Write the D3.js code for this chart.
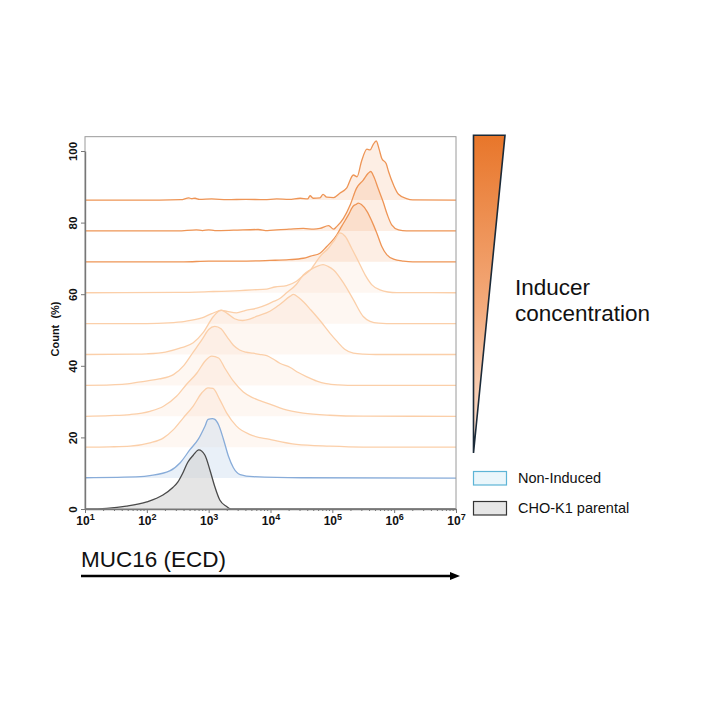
<!DOCTYPE html>
<html lang="en">
<head>
  <meta charset="UTF-8">
  <title>MUC16 (ECD) - inducer titration</title>
  <script src="https://d3js.org/d3.v7.min.js"></script>
  <style>
    body {
      margin: 0;
      padding: 0;
      background: #fff;
    }
    svg {
      display: block;
      font-family: "Liberation Sans", Arial, sans-serif;
    }
  </style>
</head>
<body>
  <div id="chart"></div>

  <script>
    // each point: [log10 intensity, count (% of mode) above the trace's own baseline]
    const parental = [[1,0],[1.35,0.2],[1.67,0.8],[2.0,2.0],[2.26,3.9],[2.42,6.0],[2.5,7.5],[2.58,10.0],[2.66,13.0],[2.75,15.0],[2.84,16.5],[2.94,15.0],[3.02,10.9],[3.10,6.2],[3.18,2.5],[3.29,0.7],[3.36,0],[7,0]];
    const nonInduced = [[1,0.1],[1.9,0.4],[2.05,0.7],[2.37,2.0],[2.54,4.3],[2.70,8.0],[2.83,10.8],[2.94,14.5],[2.99,16.4],[3.06,16.6],[3.10,16.4],[3.16,14.9],[3.24,10.8],[3.32,6.1],[3.40,2.9],[3.51,1.0],[3.72,0.4],[4.5,0.1],[7,0]];
    const dose1 = [[1,0],[1.4,0.1],[1.73,0.3],[2.05,1.2],[2.27,2.6],[2.43,4.9],[2.59,8.2],[2.75,11.5],[2.89,15.2],[2.99,16.6],[3.07,16.4],[3.18,13.3],[3.29,9.6],[3.45,5.9],[3.67,3.5],[3.99,2.2],[4.42,0.8],[4.96,0.3],[5.5,0.05],[7,0]];
    const dose2 = [[1,0],[1.4,0.2],[1.73,0.5],[2.05,1.4],[2.27,2.8],[2.48,5.6],[2.64,8.9],[2.81,12.1],[2.94,15.4],[3.05,16.8],[3.16,16.3],[3.26,13.5],[3.40,9.8],[3.56,6.8],[3.7,5.3],[3.83,4.4],[3.99,3.4],[4.21,2.0],[4.53,0.9],[4.96,0.3],[5.5,0.05],[7,0]];
    const dose3 = [[1,0],[1.6,0.3],[1.9,1.0],[2.2,1.8],[2.43,3.0],[2.6,5.6],[2.75,9.3],[2.9,13.0],[3.0,15.6],[3.1,16.5],[3.2,15.8],[3.3,13.5],[3.4,11.2],[3.5,9.9],[3.6,9.3],[3.72,9.0],[3.82,8.7],[3.94,8.3],[4.05,7.3],[4.15,6.2],[4.32,5.0],[4.45,3.6],[4.59,2.4],[4.75,1.2],[4.9,0.5],[5.1,0.15],[5.4,0],[7,0]];
    const dose4 = [[1,0],[1.8,0.1],[2.0,0.2],[2.3,0.7],[2.56,1.9],[2.75,3.3],[2.91,6.1],[3.08,10.7],[3.2,12.4],[3.3,11.5],[3.42,10.0],[3.55,9.5],[3.65,9.8],[3.78,10.7],[3.99,12.1],[4.15,14.0],[4.32,16.3],[4.37,16.8],[4.45,16.0],[4.54,14.6],[4.65,12.5],[4.80,9.5],[4.96,6.0],[5.07,3.8],[5.2,1.5],[5.34,0.4],[5.5,0.1],[5.7,0],[7,0]];
    const dose5 = [[1,0],[2.0,0],[2.35,0.2],[2.62,0.65],[2.89,1.6],[3.05,2.8],[3.21,3.7],[3.3,3.4],[3.45,3.0],[3.6,3.7],[3.78,4.3],[3.94,5.3],[4.05,6.2],[4.15,7.0],[4.26,8.6],[4.42,11.0],[4.53,13.6],[4.64,15.0],[4.75,16.0],[4.85,16.5],[4.93,16.0],[5.02,15.0],[5.18,11.4],[5.34,6.7],[5.50,2.0],[5.61,0.65],[5.75,0.15],[6,0],[7,0]];
    const dose6 = [[1,0],[2.5,0.1],[3.0,0.3],[3.5,0.6],[3.7,0.8],[3.94,1.0],[4.07,1.6],[4.26,2.0],[4.42,3.2],[4.53,4.8],[4.64,6.3],[4.69,7.4],[4.80,10.1],[4.94,12.5],[5.04,14.8],[5.12,16.7],[5.21,15.7],[5.31,12.5],[5.42,8.8],[5.53,5.0],[5.64,2.2],[5.77,0.8],[5.9,0.2],[6.04,0.05],[7,0]];
    const dose7 = [[1,0],[2.6,0],[3.0,0.2],[3.5,0.2],[3.99,0.4],[4.3,0.6],[4.53,1.0],[4.65,1.6],[4.80,2.4],[4.91,4.3],[4.99,5.7],[5.07,7.5],[5.15,9.9],[5.26,13.1],[5.34,15.6],[5.38,16.0],[5.42,16.4],[5.47,16.0],[5.56,14.1],[5.64,11.3],[5.72,8.0],[5.80,4.3],[5.88,2.0],[5.99,0.75],[6.15,0.2],[6.3,0],[7,0]];
    const dose8 = [[1,0],[2.5,0],[2.8,0.3],[2.9,0.1],[3.0,0.3],[3.1,0.1],[3.4,0.2],[3.8,0.4],[3.95,0.1],[4.1,0.3],[4.3,0.5],[4.53,0.7],[4.7,0.5],[4.8,0.7],[4.94,1.5],[5.02,0.5],[5.07,1.2],[5.18,3.5],[5.29,7.3],[5.39,11.9],[5.50,14.2],[5.58,16.1],[5.62,16.6],[5.67,15.2],[5.74,11.9],[5.82,8.2],[5.89,4.5],[5.96,1.7],[6.07,0.3],[6.2,0],[7,0]];
    const dose9 = [[1,0],[2.2,0],[2.55,0.1],[2.68,0.6],[2.72,0.4],[2.78,0.5],[2.85,0.2],[3.05,0.3],[3.3,0.1],[3.6,0.2],[3.9,0.1],[4.1,0.3],[4.3,0.2],[4.48,0.5],[4.6,0.3],[4.64,1.2],[4.69,0.5],[4.8,0.6],[4.85,1.6],[4.91,0.8],[5.02,0.7],[5.12,1.9],[5.23,3.3],[5.34,7.0],[5.40,6.5],[5.47,10.7],[5.56,14.2],[5.61,14.0],[5.66,15.5],[5.71,16.5],[5.76,14.0],[5.80,11.6],[5.87,10.2],[5.91,7.9],[5.99,4.2],[6.07,1.6],[6.2,0.4],[6.3,0.05],[7,0]];

    // bottom to top, in stacking order
    const traces = [parental, nonInduced, dose1, dose2, dose3, dose4, dose5, dose6, dose7, dose8, dose9];

    const xDecades = [1, 2, 3, 4, 5, 6, 7];
    const yTicks = [0, 20, 40, 60, 80, 100];
    const legendLabels = ["Non-Induced", "CHO-K1 parental"];
    const wedgeLabel = ["Inducer", "concentration"];
    const xTitle = "MUC16 (ECD)";
    const yTitle = "Count  (%)";

    const step = 8.63;   // vertical offset between stacked histograms, in y units

    const svg = d3.select("#chart")
                  .append("svg")
                  .attr("width", 720)
                  .attr("height", 720);

    const x = d3.scaleLog().domain([10, 1e7]).range([85, 456]);
    const y = d3.scaleLinear().domain([0, 100]).range([509, 151]);

    function styleOf(i) {
      if (i === 0) return { stroke: "#4a4a4a", fill: "#d4d4d4", op: 0.6 };
      if (i === 1) return { stroke: "#88acd9", fill: "#c8d9ee", op: 0.4 };
      if (i >= 8) return { stroke: "#ee9556", fill: "#f08a40", op: 0.14 };
      return { stroke: "#fbcfa9", fill: "#f39a55", op: 0.075 };
    }

    // gradient for the inducer wedge
    const defs = svg.append("defs");
    const grad = defs.append("linearGradient")
                     .attr("id", "wedge")
                     .attr("x1", 0).attr("y1", 0)
                     .attr("x2", 0).attr("y2", 1);
    grad.append("stop").attr("offset", "0%").attr("stop-color", "#e8762a");
    grad.append("stop").attr("offset", "55%").attr("stop-color", "#f3ab7d");
    grad.append("stop").attr("offset", "100%").attr("stop-color", "#fbe6d9");

    defs.append("clipPath").attr("id", "plotClip")
        .append("rect")
        .attr("x", x(10)).attr("y", y(104))
        .attr("width", x(1e7) - x(10)).attr("height", y(0) - y(104));

    // histograms, top trace first so lower ones sit in front
    const plot = svg.append("g").attr("clip-path", "url(#plotClip)");

    traces.map((t, i) => ({ i, base: i * step, pts: t }))
      .reverse()
      .forEach(tr => {
        const st = styleOf(tr.i);
        const area = d3.area()
                       .curve(d3.curveMonotoneX)
                       .x(d => x(Math.pow(10, d[0])))
                       .y0(y(tr.base))
                       .y1(d => y(tr.base + d[1]));
        const line = d3.line()
                       .curve(d3.curveMonotoneX)
                       .x(d => x(Math.pow(10, d[0])))
                       .y(d => y(tr.base + d[1]));

        plot.append("path")
            .attr("d", area(tr.pts))
            .attr("fill", st.fill)
            .attr("fill-opacity", st.op);

        plot.append("path")
            .attr("d", line(tr.pts))
            .attr("fill", "none")
            .attr("stroke", st.stroke)
            .attr("stroke-width", 1.3);
      });

    // frame
    svg.append("rect")
       .attr("x", x(10)).attr("y", y(104))
       .attr("width", x(1e7) - x(10)).attr("height", y(0) - y(104))
       .attr("fill", "none")
       .attr("stroke", "#9a9a9a")
       .attr("stroke-width", 1);

    // x axis
    const gx = svg.append("g")
                  .attr("transform", `translate(0, ${y(0)})`)
                  .call(d3.axisBottom(x)
                          .tickValues(xDecades.map(e => Math.pow(10, e)))
                          .tickSize(4)
                          .tickSizeOuter(0)
                          .tickFormat(""));

    gx.selectAll(".tick text").each(function(d) {
      const t = d3.select(this);
      t.attr("font-size", 12).attr("font-weight", "bold").attr("fill", "#111")
       .attr("font-family", "'Liberation Sans', Arial, sans-serif");
      t.append("tspan").text("10");
      t.append("tspan")
       .attr("dy", "-0.45em")
       .attr("font-size", 9)
       .text(Math.round(Math.log10(d)));
    });

    const minor = x.ticks().filter(v => Math.abs(Math.log10(v) % 1) > 1e-6);
    gx.selectAll(".minor")
      .data(minor)
      .enter()
      .append("line")
      .attr("class", "minor")
      .attr("x1", d => x(d)).attr("x2", d => x(d))
      .attr("y1", 0).attr("y2", 2)
      .attr("stroke", "#777");

    // y axis
    const gy = svg.append("g")
                  .attr("transform", `translate(${x(10)}, 0)`)
                  .call(d3.axisLeft(y)
                          .tickValues(yTicks)
                          .tickSize(4)
                          .tickSizeOuter(0));

    gy.selectAll(".tick text")
      .attr("x", 0)
      .attr("dy", 0)
      .attr("transform", "translate(-8.5, 0) rotate(-90)")
      .attr("text-anchor", "middle")
      .attr("font-size", 11.5)
      .attr("font-weight", "bold")
      .attr("fill", "#111")
      .attr("font-family", "'Liberation Sans', Arial, sans-serif");

    [gx, gy].forEach(g => {
      g.select(".domain").attr("stroke", "#777").attr("stroke-width", 1.4);
      g.selectAll(".tick line").attr("stroke", "#777");
    });

    svg.append("text")
       .attr("transform", "translate(58.5, 329) rotate(-90)")
       .attr("text-anchor", "middle")
       .attr("font-size", 11)
       .attr("font-weight", "bold")
       .attr("fill", "#111")
       .attr("xml:space", "preserve")
       .style("white-space", "pre")
       .text(yTitle);

    // x title with arrow
    svg.append("text")
       .attr("x", 81)
       .attr("y", 567)
       .attr("font-size", 22.5)
       .attr("fill", "#111")
       .text(xTitle);

    svg.append("line")
       .attr("x1", 81).attr("x2", 451)
       .attr("y1", 576).attr("y2", 576)
       .attr("stroke", "#000")
       .attr("stroke-width", 2.6);

    svg.append("path")
       .attr("d", "M450,572 L460,576 L450,580 Z")
       .attr("fill", "#000");

    // inducer wedge
    svg.append("path")
       .attr("d", `M473.5,${y(104) - 1.5} L505,${y(104) - 1.5} L473.5,453 Z`)
       .attr("fill", "url(#wedge)")
       .attr("stroke", "#1b2a38")
       .attr("stroke-width", 1.6)
       .attr("stroke-linejoin", "miter");

    svg.selectAll(".wedge-label")
       .data(wedgeLabel)
       .enter()
       .append("text")
       .attr("class", "wedge-label")
       .attr("x", 515)
       .attr("y", (d, i) => 295 + i * 26)
       .attr("font-size", 22.5)
       .attr("fill", "#111")
       .text(d => d);

    // legend
    const legendStyle = [
      { fill: "#eaf6fb", stroke: "#5db4d6" },
      { fill: "#e6e6e6", stroke: "#333" }
    ];

    const lg = svg.selectAll(".legend")
                  .data(legendLabels)
                  .enter()
                  .append("g")
                  .attr("class", "legend")
                  .attr("transform", (d, i) => `translate(473.5, ${471.5 + i * 30})`);

    lg.append("rect")
      .attr("width", 33)
      .attr("height", 13.5)
      .attr("fill", (d, i) => legendStyle[i].fill)
      .attr("stroke", (d, i) => legendStyle[i].stroke)
      .attr("stroke-width", 1.2);

    lg.append("text")
      .attr("x", 44.5)
      .attr("y", 11.5)
      .attr("font-size", 14.5)
      .attr("fill", "#111")
      .text(d => d);
  </script>
</body>
</html>
